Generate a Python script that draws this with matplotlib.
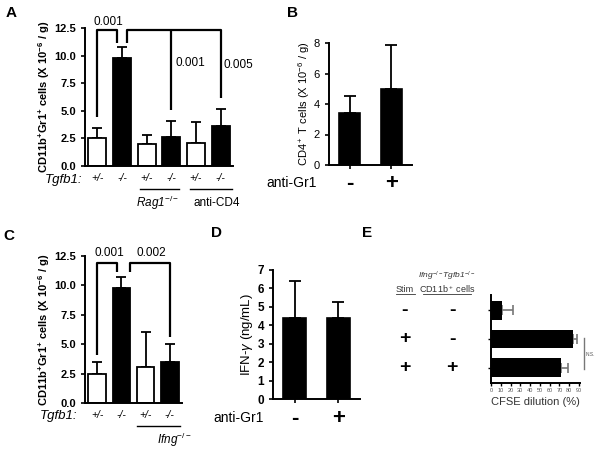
"""Five-panel bar figure: CD11b+Gr1+ cells, CD4+ T cells, IFN-gamma, CFSE dilution."""

import numpy as np
import matplotlib
matplotlib.use('Agg')
import matplotlib.pyplot as plt
from matplotlib.transforms import blended_transform_factory

plt.rcParams['font.family'] = ['Liberation Sans', 'DejaVu Sans']
plt.rcParams['mathtext.fontset'] = 'custom'
plt.rcParams['mathtext.rm'] = 'Liberation Sans'
plt.rcParams['mathtext.it'] = 'Liberation Sans:italic'
plt.rcParams['mathtext.bf'] = 'Liberation Sans:bold'
plt.rcParams['axes.linewidth'] = 1.4

# panel A
a_genotypes = ['+/-', '-/-', '+/-', '-/-', '+/-', '-/-']
a_values = [2.5, 9.8, 2.0, 2.6, 2.1, 3.6]
a_errors = [0.95, 0.95, 0.85, 1.5, 1.85, 1.6]
a_fill = ['white', 'black', 'white', 'black', 'white', 'black']
a_pvalues = ['0.001', '0.001', '0.005']

# panel B
b_labels = ['-', '+']
b_values = [3.4, 5.0]
b_errors = [1.1, 2.9]

# panel C
c_genotypes = ['+/-', '-/-', '+/-', '-/-']
c_values = [2.45, 9.8, 3.07, 3.5]
c_errors = [1.05, 0.95, 2.95, 1.5]
c_fill = ['white', 'black', 'white', 'black']
c_pvalues = ['0.001', '0.002']

# panel D
d_labels = ['-', '+']
d_values = [4.37, 4.37]
d_errors = [2.04, 0.92]

# panel E
e_stim = ['-', '+', '+']
e_cells = ['-', '-', '+']
e_values = [11.5, 84.0, 71.8]
e_errors = [11.0, 4.0, 7.0]

W, H = 602, 453
fig = plt.figure(figsize=(W / 100, H / 100), dpi=100)


def add_ax(left, top, right, bottom):
    return fig.add_axes([left / W, 1 - bottom / H, (right - left) / W, (bottom - top) / H])


def style(ax):
    ax.spines['top'].set_visible(False)
    ax.spines['right'].set_visible(False)
    ax.tick_params(direction='out', length=3, width=1.2, color='black')


def upper_err(ax, x, y, e, capsize=3.5):
    ax.errorbar(x, y, yerr=[np.zeros(len(e)), e], fmt='none', ecolor='black',
                elinewidth=1.3, capsize=capsize, capthick=1.3, zorder=1)


def bracket(ax, xs, ys):
    ax.plot(xs, ys, color='black', lw=1.6, clip_on=False, solid_capstyle='butt')


def panel_letter(x, y, s):
    fig.text(x / W, 1 - y / H, s, fontsize=11, fontweight='bold', ha='center', va='center')


# ---------------- A ----------------
axA = add_ax(85, 28, 233, 166)
style(axA)
posA = np.arange(len(a_values))
axA.bar(posA, a_values, width=0.74, color=a_fill, edgecolor='black', linewidth=1.3, zorder=2)
upper_err(axA, posA, a_values, a_errors)
axA.set_xlim(-0.5, 5.5)
axA.set_ylim(0, 12.5)
yt = np.arange(0, 12.6, 2.5)
axA.set_yticks(yt, ['%.1f' % v for v in yt], fontsize=8, fontweight='bold')
axA.set_xticks(posA, a_genotypes, fontsize=7.5, fontstyle='italic')
axA.tick_params(axis='x', length=0, pad=5)
axA.set_ylabel(r'CD11b$^{\mathbf{+}}$Gr1$^{\mathbf{+}}$ cells (X 10$^{\mathbf{-6}}$ / g)',
               fontsize=8, fontweight='bold', labelpad=1.5)
bracket(axA, [0, 0, 0.8, 0.8], [4.4, 12.3, 12.3, 11.1])
bracket(axA, [1.2, 1.2, 5, 5], [11.1, 12.3, 12.3, 6.2])
bracket(axA, [3, 3], [12.3, 5.1])
axA.text(0.45, 13.05, a_pvalues[0], fontsize=8.5, ha='center', va='center')
axA.text(3.77, 9.33, a_pvalues[1], fontsize=8.5, ha='center', va='center')
axA.text(5.7, 9.15, a_pvalues[2], fontsize=8.5, ha='center', va='center')
tA = axA.get_xaxis_transform()
axA.text(-0.62, -0.105, 'Tgfb1:', transform=tA, fontsize=9.5, fontstyle='italic',
         ha='right', va='center')
axA.plot([1.72, 3.3], [-0.17, -0.17], transform=tA, color='black', lw=1, clip_on=False)
axA.plot([3.75, 5.45], [-0.17, -0.17], transform=tA, color='black', lw=1, clip_on=False)
axA.text(2.45, -0.27, r'Rag1$^{-/-}$', transform=tA, fontsize=8.5, fontstyle='italic',
         ha='center', va='center')
axA.text(4.85, -0.27, 'anti-CD4', transform=tA, fontsize=8.5, ha='center', va='center')
panel_letter(11, 13, 'A')

# ---------------- B ----------------
axB = add_ax(329, 43, 412, 165)
style(axB)
posB = np.arange(len(b_values))
axB.bar(posB, b_values, width=0.5, color='black', edgecolor='black', linewidth=1.2, zorder=2)
upper_err(axB, posB, b_values, b_errors, capsize=4)
axB.set_xlim(-0.5, 1.5)
axB.set_ylim(0, 8)
axB.set_yticks([0, 2, 4, 6, 8], ['0', '2', '4', '6', '8'], fontsize=8)
axB.set_xticks(posB, ['', ''])
axB.set_ylabel(r'CD4$^+$ T cells (X 10$^{-6}$ / g)', fontsize=8, labelpad=1)
tB = axB.get_xaxis_transform()
for p, s in zip(posB, b_labels):
    axB.text(p, -0.15, s, transform=tB, fontsize=16, fontweight='bold',
             ha='center', va='center')
axB.text(-0.8, -0.15, 'anti-Gr1', transform=tB, fontsize=10, ha='right', va='center')
panel_letter(292, 13, 'B')

# ---------------- C ----------------
axC = add_ax(85, 256, 182, 403)
style(axC)
posC = np.arange(len(c_values))
axC.bar(posC, c_values, width=0.72, color=c_fill, edgecolor='black', linewidth=1.3, zorder=2)
upper_err(axC, posC, c_values, c_errors)
axC.set_xlim(-0.5, 3.5)
axC.set_ylim(0, 12.5)
axC.set_yticks(yt, ['%.1f' % v for v in yt], fontsize=8, fontweight='bold')
axC.set_xticks(posC, c_genotypes, fontsize=7.5, fontstyle='italic')
axC.tick_params(axis='x', length=0, pad=5)
axC.set_ylabel(r'CD11b$^{\mathbf{+}}$Gr1$^{\mathbf{+}}$ cells (X 10$^{\mathbf{-6}}$ / g)',
               fontsize=8, fontweight='bold', labelpad=1.5)
bracket(axC, [0, 0, 0.8, 0.8], [4.1, 11.9, 11.9, 11.1])
bracket(axC, [1.37, 1.37, 3, 3], [11.1, 11.9, 11.9, 5.6])
axC.text(0.5, 12.75, c_pvalues[0], fontsize=8.5, ha='center', va='center')
axC.text(2.25, 12.75, c_pvalues[1], fontsize=8.5, ha='center', va='center')
tC = axC.get_xaxis_transform()
axC.text(-0.8, -0.09, 'Tgfb1:', transform=tC, fontsize=9.5, fontstyle='italic',
         ha='right', va='center')
axC.plot([1.63, 3.4], [-0.156, -0.156], transform=tC, color='black', lw=1, clip_on=False)
axC.text(3.2, -0.25, r'Ifng$^{-/-}$', transform=tC, fontsize=8.5, fontstyle='italic',
         ha='center', va='center')
panel_letter(9, 236, 'C')

# ---------------- D ----------------
axD = add_ax(273, 270, 360, 399)
style(axD)
posD = np.arange(len(d_values))
axD.bar(posD, d_values, width=0.53, color='black', edgecolor='black', linewidth=1.2, zorder=2)
upper_err(axD, posD, d_values, d_errors, capsize=4)
axD.set_xlim(-0.5, 1.5)
axD.set_ylim(0, 7)
axD.set_yticks(range(8), [str(v) for v in range(8)], fontsize=8.5, fontweight='bold')
axD.set_xticks(posD, ['', ''])
axD.set_ylabel(r'IFN-$\gamma$ (ng/mL)', fontsize=9.5, labelpad=2)
tD = axD.get_xaxis_transform()
for p, s in zip(posD, d_labels):
    axD.text(p, -0.15, s, transform=tD, fontsize=16, fontweight='bold',
             ha='center', va='center')
axD.text(-0.72, -0.15, 'anti-Gr1', transform=tD, fontsize=10, ha='right', va='center')
panel_letter(217, 233, 'D')

# ---------------- E ----------------
grey = '#555555'
axE = add_ax(491, 295, 580, 383)
style(axE)
rows = np.arange(len(e_values))
axE.barh(rows, e_values, height=0.66, color='black', zorder=2)
axE.errorbar(e_values, rows, xerr=[np.zeros(len(e_errors)), e_errors], fmt='none',
             ecolor='#777777', elinewidth=1.2, capsize=3.5, capthick=1.2, zorder=1)
axE.set_xlim(0, 91)
axE.set_ylim(2.53, -0.53)
axE.set_xticks(np.arange(0, 91, 10))
axE.set_xticklabels([str(v) for v in range(0, 91, 10)], fontsize=4, color=grey)
axE.set_yticks(rows, ['', '', ''])
axE.tick_params(length=2, width=1, pad=1.5)
axE.set_xlabel('CFSE dilution (%)', fontsize=8, color='#333333', labelpad=3)
axE.plot([95, 95], [0.95, 2.05], color='#777777', lw=1, clip_on=False)
axE.text(96.5, 1.55, 'N.S.', fontsize=3.5, color=grey, ha='left', va='center')
tE = blended_transform_factory(fig.transFigure, axE.transData)
for r, s1, s2 in zip(rows, e_stim, e_cells):
    axE.text(405 / W, r, s1, transform=tE, fontsize=14, fontweight='bold',
             ha='center', va='center')
    axE.text(452 / W, r, s2, transform=tE, fontsize=14, fontweight='bold',
             ha='center', va='center')
fig.text(405 / W, 1 - 289 / H, 'Stim', fontsize=6.5, color='#333333', ha='center', va='center')
fig.text(447 / W, 1 - 276 / H, r'Ifng$^{-/-}$Tgfb1$^{-/-}$', fontsize=6, fontstyle='italic',
         color='#333333', ha='center', va='center')
fig.text(447 / W, 1 - 289.5 / H, r'CD11b$^+$ cells', fontsize=6.5, color='#333333',
         ha='center', va='center')
fig.add_artist(plt.Line2D([396 / W, 415 / W], [1 - 294 / H] * 2, color='#333333', lw=0.6))
fig.add_artist(plt.Line2D([423 / W, 471 / W], [1 - 294 / H] * 2, color='#333333', lw=0.6))
panel_letter(367, 233, 'E')

fig.savefig('out.png', dpi=100)
